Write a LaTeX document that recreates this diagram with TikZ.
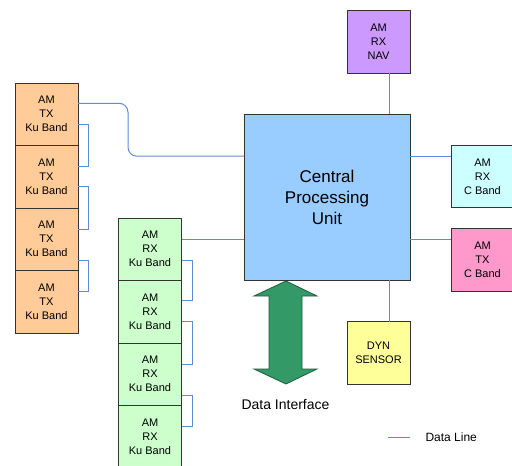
\documentclass[tikz,border=0pt]{standalone}
\usepackage{fontspec}
\setmainfont{Liberation Sans}

\definecolor{txorange}{RGB}{255,204,153}
\definecolor{rxgreen}{RGB}{204,255,204}
\definecolor{cpublue}{RGB}{153,204,255}
\definecolor{navpurple}{RGB}{204,153,255}
\definecolor{rxcyan}{RGB}{204,255,255}
\definecolor{txpink}{RGB}{255,153,204}
\definecolor{dynyellow}{RGB}{255,255,153}
\definecolor{arrowgreen}{RGB}{51,153,102}
\definecolor{lineblue}{RGB}{91,141,214}

\begin{document}
\begin{tikzpicture}[x=1pt,y=-1pt,
    unit/.style = {draw=black!80, line width=0.8pt, minimum width=63pt, minimum height=62.5pt,
                   inner sep=0pt, outer sep=0pt, align=center, font=\fontsize{11}{14}\selectfont},
    dataline/.style = {draw=lineblue, line width=1pt}]
    \useasboundingbox (0,0) rectangle (512,466);
    % stacks of amplifier modules
    \foreach \i in {1,...,4}
        \node[unit, fill=txorange] (tx\i) at (46.5,51.75+62.5*\i) {AM\\TX\\Ku Band};
    \foreach \i in {1,...,4}
        \node[unit, fill=rxgreen] (rx\i) at (150,186.75+62.5*\i) {AM\\RX\\Ku Band};
    \node[unit, fill=cpublue, minimum width=166pt, minimum height=166pt,
          font=\fontsize{17}{21}\selectfont] (cpu) at (327,197) {Central\\Processing\\Unit};
    \node[unit, fill=navpurple, minimum height=63pt] (nav) at (378.5,41.5) {AM\\RX\\NAV};
    \node[unit, fill=rxcyan] (rxc) at (482.5,176.5) {AM\\RX\\C Band};
    \node[unit, fill=txpink] (txc) at (482.5,260) {AM\\TX\\C Band};
    \node[unit, fill=dynyellow] (dyn) at (378.5,353) {DYN\\SENSOR};
    \node[font=\fontsize{14}{17}\selectfont] (iface) at (285.5,404) {Data Interface};
    \node[anchor=west, font=\fontsize{12}{14}\selectfont] (legend) at (422,437) {Data Line};

    % links to the cpu
    \draw[dataline, rounded corners=9pt] ([yshift=11pt]tx1.east) -| ++(50,53) -- ([yshift=41pt]cpu.west);
    \coordinate (r1) at ([yshift=10pt]rx1.east);
    \draw[dataline] (r1) -- (r1 -| cpu.west);
    \coordinate (c1) at ([yshift=41pt]cpu.east);
    \draw[dataline] (c1) -- (c1 -| rxc.west);
    \coordinate (c2) at ([yshift=-42pt]cpu.east);
    \draw[dataline] (c2) -- (c2 -| txc.west);
    \coordinate (n1) at ([xshift=10.5pt]nav.south);
    \draw[dataline] (n1) -- (n1 |- cpu.north);
    \coordinate (d1) at ([xshift=10.5pt]dyn.north);
    \draw[dataline] (d1) -- (d1 |- cpu.south);

    % daisy chains
    \draw[dataline] ([yshift=-10pt]tx1.east) -- ++(10,0) |- ([yshift=10pt]tx2.east);
    \draw[dataline] ([yshift=-10pt]tx2.east) -- ++(10,0) |- ([yshift=10pt]tx3.east);
    \draw[dataline] ([yshift=-21pt]tx3.east) -- ++(10,0) |- ([yshift=10pt]tx4.east);
    \draw[dataline] ([yshift=-11pt]rx1.east) -- ++(11,0) |- ([yshift=11pt]rx2.east);
    \draw[dataline] ([yshift=-10pt]rx2.east) -- ++(11,0) |- ([yshift=10pt]rx3.east);
    \draw[dataline] ([yshift=-21pt]rx3.east) -- ++(11,0) |- ([yshift=10pt]rx4.east);

    % data interface arrow
    \draw[fill=arrowgreen, draw=arrowgreen!60!black, line width=0.8pt]
        (286,281) -- (317,296) -- (302,296) -- (302,369) -- (317,369) -- (286,384)
        -- (254,369) -- (269,369) -- (269,296) -- (254,296) -- cycle;

    % legend
    \draw[dataline] ([xshift=-12pt]legend.west) -- ([xshift=-34pt]legend.west);
    %\draw[dataline] (cpu.south) -- (iface.north);
\end{tikzpicture}
\end{document}
